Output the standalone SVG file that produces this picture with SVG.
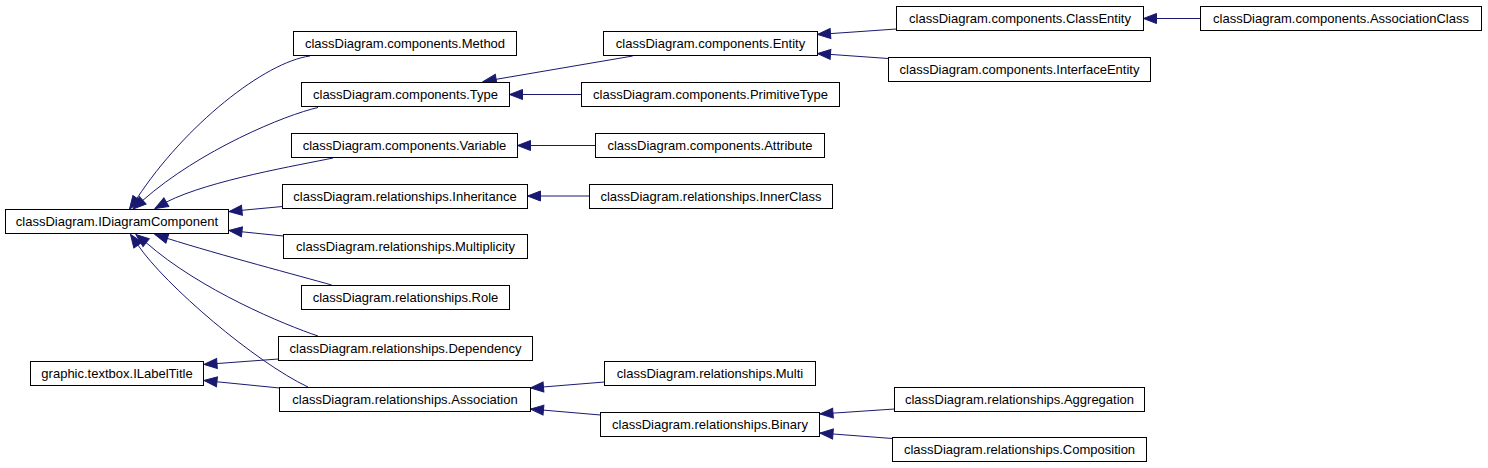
<svg xmlns="http://www.w3.org/2000/svg" width="1488" height="468" viewBox="0 0 1488 468">
<style>
.node rect{fill:#ffffff;stroke:#000000;stroke-width:1}
.node text{font-family:"Liberation Sans",Arial,sans-serif;font-size:13px;fill:#000000;text-anchor:middle}
.edges path{fill:none;stroke:#191970;stroke-width:1;marker-end:url(#arr)}
</style>
<defs>
<marker id="arr" markerUnits="userSpaceOnUse" markerWidth="16" markerHeight="12" refX="13" refY="5" orient="auto" overflow="visible">
<path d="M0,0 L13,5 L0,10 Z" fill="#191970" stroke="#191970" stroke-width="1"/>
</marker>
</defs>
<rect width="1488" height="468" fill="#ffffff"/>
<g class="edges" id="connectors">
<path d="M310,56 C265,62 185,125 136.8,198.6 L129.5,209"/>
<path d="M318,107.5 C285,115 200,150 142.75,200.4 L133,209"/>
<path d="M333,158 C300,165 210,180 166.7,201.9 L155,208.5"/>
<path d="M282.5,206.5 L229,211.5"/>
<path d="M283.5,236 L229,230.5"/>
<path d="M331.7,285 C300,276 220,255 167.3,238.4 L155,234.5"/>
<path d="M318,336 C285,325 200,290 146.1,242.6 L136,234.5"/>
<path d="M308,387 C255,362 165,285 137.8,244.9 L130.5,234.5"/>
<path d="M278.5,359 L204,364.5"/>
<path d="M279.5,388 L204,380.5"/>
<path d="M632.7,56 L483.3,81.5"/>
<path d="M581.5,94.5 L509.5,94.5"/>
<path d="M595.5,145.5 L517.5,145.5"/>
<path d="M589.5,196 L527.5,196"/>
<path d="M896.5,29 L817.5,34.5"/>
<path d="M888.5,58.5 L817.5,53.5"/>
<path d="M1200.5,18.5 L1143.5,18.5"/>
<path d="M604.5,382 L530.5,388"/>
<path d="M600.5,415 L530.5,409"/>
<path d="M894.5,409 L820,414"/>
<path d="M892.5,438.5 L820,433"/>
</g>
<g class="node" id="IDiagramComponent"><rect x="5.5" y="209.5" width="223" height="24"/><text x="117" y="226">classDiagram.IDiagramComponent</text></g>
<g class="node" id="ILabelTitle"><rect x="30.5" y="361.5" width="173" height="24"/><text x="117" y="378">graphic.textbox.ILabelTitle</text></g>
<g class="node" id="Method"><rect x="293.5" y="31.5" width="223" height="24"/><text x="405" y="48">classDiagram.components.Method</text></g>
<g class="node" id="Type"><rect x="301.5" y="82.5" width="208" height="24"/><text x="405.5" y="99">classDiagram.components.Type</text></g>
<g class="node" id="Variable"><rect x="291.5" y="133.5" width="226" height="24"/><text x="404.5" y="150">classDiagram.components.Variable</text></g>
<g class="node" id="Inheritance"><rect x="282.5" y="184.5" width="245" height="24"/><text x="405" y="201">classDiagram.relationships.Inheritance</text></g>
<g class="node" id="Multiplicity"><rect x="283.5" y="234.5" width="244" height="24"/><text x="405.5" y="251">classDiagram.relationships.Multiplicity</text></g>
<g class="node" id="Role"><rect x="301.5" y="285.5" width="208" height="24"/><text x="405.5" y="302">classDiagram.relationships.Role</text></g>
<g class="node" id="Dependency"><rect x="278.5" y="336.5" width="254" height="24"/><text x="405.5" y="353">classDiagram.relationships.Dependency</text></g>
<g class="node" id="Association"><rect x="279.5" y="387.5" width="251" height="24"/><text x="405" y="404">classDiagram.relationships.Association</text></g>
<g class="node" id="Entity"><rect x="603.5" y="31.5" width="214" height="24"/><text x="710.5" y="48">classDiagram.components.Entity</text></g>
<g class="node" id="PrimitiveType"><rect x="581.5" y="82.5" width="258" height="24"/><text x="710.5" y="99">classDiagram.components.PrimitiveType</text></g>
<g class="node" id="Attribute"><rect x="595.5" y="133.5" width="229" height="24"/><text x="710" y="150">classDiagram.components.Attribute</text></g>
<g class="node" id="InnerClass"><rect x="589.5" y="184.5" width="243" height="24"/><text x="711" y="201">classDiagram.relationships.InnerClass</text></g>
<g class="node" id="Multi"><rect x="604.5" y="361.5" width="211" height="24"/><text x="710" y="378">classDiagram.relationships.Multi</text></g>
<g class="node" id="Binary"><rect x="600.5" y="412.5" width="219" height="24"/><text x="710" y="429">classDiagram.relationships.Binary</text></g>
<g class="node" id="ClassEntity"><rect x="896.5" y="6.5" width="247" height="24"/><text x="1020" y="23">classDiagram.components.ClassEntity</text></g>
<g class="node" id="InterfaceEntity"><rect x="888.5" y="57.5" width="262" height="24"/><text x="1019.5" y="74">classDiagram.components.InterfaceEntity</text></g>
<g class="node" id="AssociationClass"><rect x="1200.5" y="6.5" width="281" height="24"/><text x="1341" y="23">classDiagram.components.AssociationClass</text></g>
<g class="node" id="Aggregation"><rect x="894.5" y="387.5" width="250" height="24"/><text x="1019.5" y="404">classDiagram.relationships.Aggregation</text></g>
<g class="node" id="Composition"><rect x="892.5" y="437.5" width="254" height="24"/><text x="1019.5" y="454">classDiagram.relationships.Composition</text></g>
</svg>
